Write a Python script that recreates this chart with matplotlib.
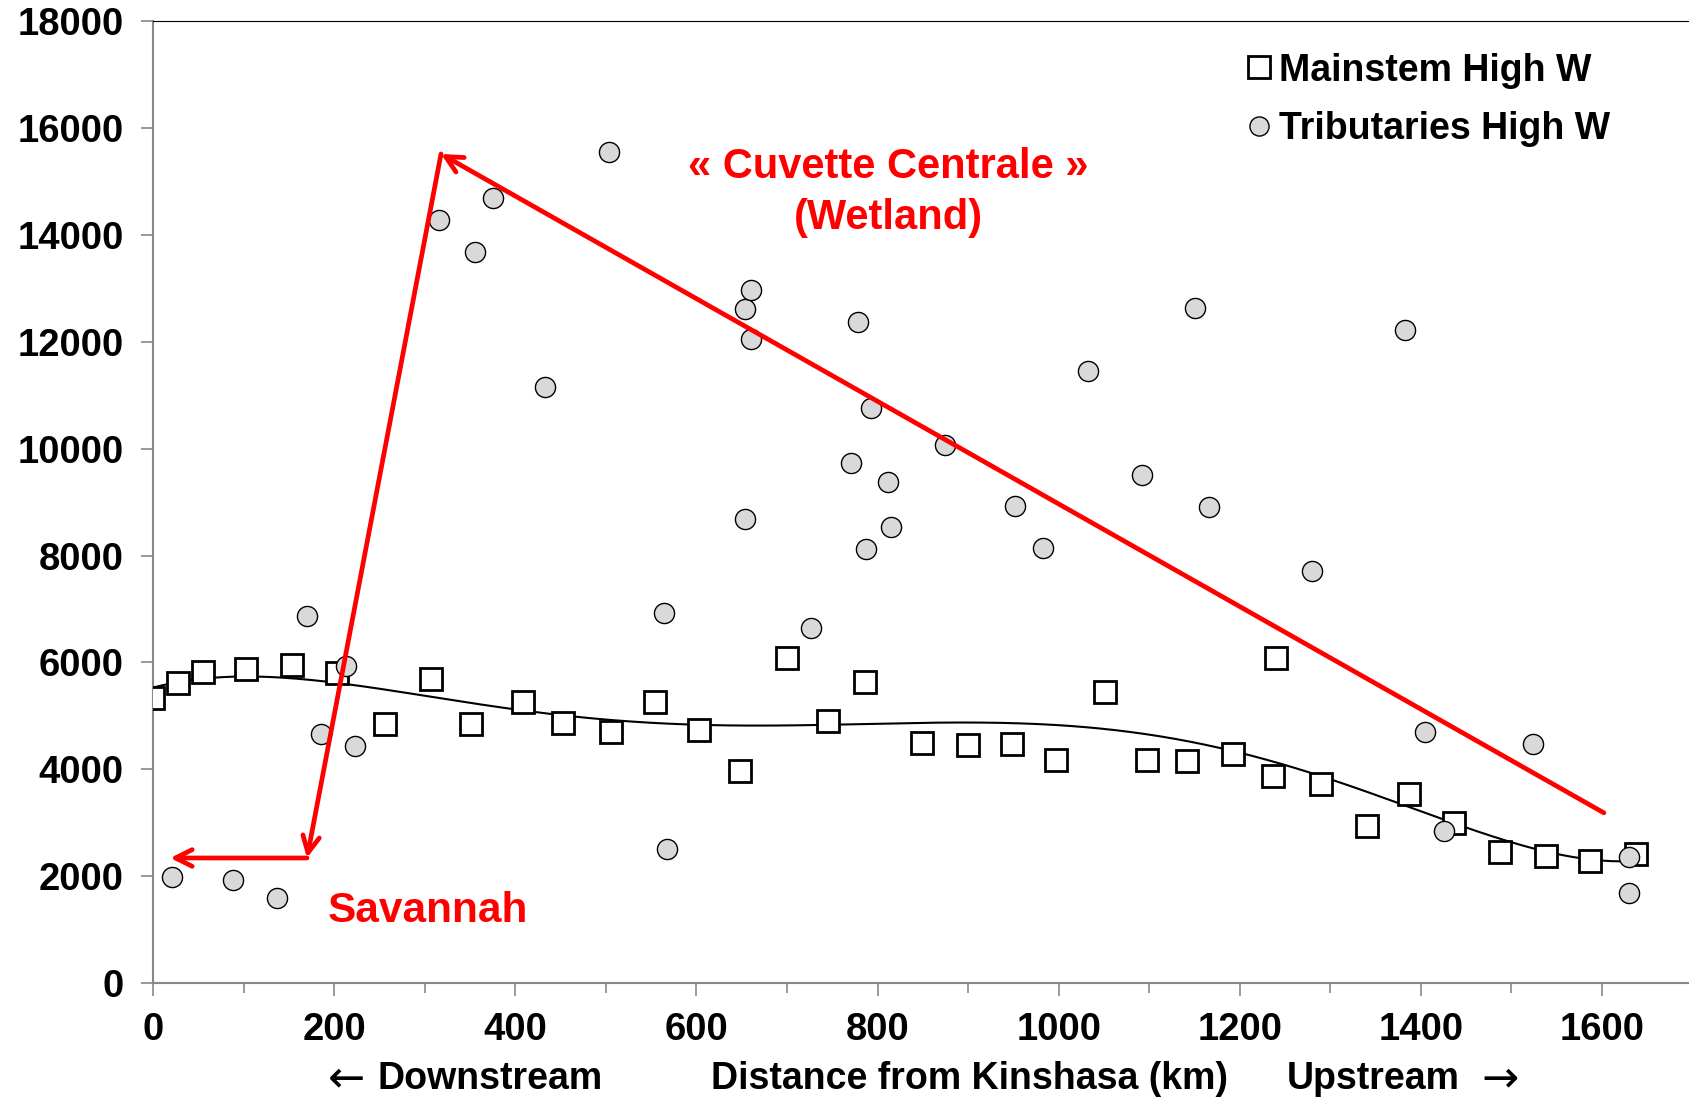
import numpy as np
import matplotlib.pyplot as plt

plt.rcParams['font.family'] = ['Liberation Sans', 'DejaVu Sans']
plt.rcParams['font.weight'] = 'bold'

# mainstem high water (km from Kinshasa, value)
main_x = [0, 28, 55, 103, 153, 203, 256, 307, 351, 408, 453, 506, 554, 603, 648,
          700, 745, 786, 849, 900, 949, 997, 1051, 1097, 1142, 1192, 1240, 1237,
          1290, 1340, 1387, 1436, 1487, 1538, 1587, 1638]
main_y = [5340, 5620, 5830, 5870, 5950, 5800, 4840, 5700, 4840, 5260, 4860, 4700,
          5260, 4740, 3970, 6090, 4900, 5640, 4500, 4460, 4480, 4170, 5440, 4170,
          4150, 4290, 6090, 3870, 3730, 2940, 3530, 3000, 2460, 2380, 2280, 2420]

# tributaries high water
trib_x = [21, 88, 137, 170, 185, 213, 223, 316, 355, 375, 433, 504, 564, 568, 654,
          660, 660, 654, 726, 771, 778, 787, 793, 811, 815, 874, 952, 983, 1032,
          1092, 1150, 1166, 1280, 1382, 1405, 1425, 1524, 1630, 1630]
trib_y = [1980, 1920, 1590, 6870, 4660, 5930, 4440, 14290, 13690, 14700, 11150,
          15560, 6930, 2500, 12620, 12980, 12050, 8690, 6650, 9740, 12380, 8120,
          10760, 9370, 8530, 10080, 8930, 8140, 11450, 9510, 12640, 8910, 7720,
          12220, 4700, 2840, 4480, 2360, 1690]

# red annotation path (km, value)
wet_path_x = [1602, 318, 170, 19]
wet_path_y = [3185, 15520, 2340, 2340]

fig = plt.figure(figsize=(16.89, 11.02), dpi=100)
ax = fig.add_axes([0.0906, 0.108, 0.9094, 0.8725])

# polynomial trendline through the mainstem points
coef = np.polyfit(main_x, main_y, 6)
xs = np.linspace(0, max(main_x), 300)
ax.plot(xs, np.polyval(coef, xs), color='black', lw=1.5, zorder=2)

ax.plot(main_x, main_y, ls='none', marker='s', ms=16, mfc='white', mec='black',
        mew=2, label='Mainstem High W', zorder=3)
ax.plot(trib_x, trib_y, ls='none', marker='o', ms=14.5, mfc='#d9d9d9', mec='black',
        mew=1, label='Tributaries High W', zorder=4)

arrow = dict(arrowstyle='->,head_length=1.2,head_width=0.6', color='red', lw=3.4,
             shrinkA=0, shrinkB=0)
for i in range(3):
    ax.annotate('', xy=(wet_path_x[i + 1], wet_path_y[i + 1]),
                xytext=(wet_path_x[i], wet_path_y[i]), arrowprops=arrow, zorder=5)

ax.text(812, 14800, '« Cuvette Centrale »\n(Wetland)', color='red', fontsize=30,
        fontweight='bold', ha='center', va='center', linespacing=1.35)
ax.text(303, 1350, 'Savannah', color='red', fontsize=30.5, fontweight='bold',
        ha='center', va='center')

ax.set_xlim(0, 1696)
ax.set_ylim(0, 18000)
ax.set_xticks(range(0, 1700, 200))
ax.set_xticks(range(100, 1700, 200), minor=True)
ax.set_yticks(range(0, 18001, 2000))
ax.tick_params(axis='both', which='major', labelsize=27.5, color='#888888',
               length=9, width=1.2, direction='out', pad=12)
ax.tick_params(axis='x', which='minor', color='#888888', length=7, width=1.2)
for lab in ax.get_xticklabels() + ax.get_yticklabels():
    lab.set_fontweight('bold')

ax.spines['left'].set_color('#888888')
ax.spines['bottom'].set_color('#888888')
ax.spines['left'].set_linewidth(1.5)
ax.spines['bottom'].set_linewidth(1.5)
ax.spines['top'].set_color('black')
ax.spines['right'].set_visible(False)

# x axis caption in pieces, arrows drawn a bit larger
cap_y = 0.021
fig.text(0.205, cap_y, '\u2190', fontsize=32, ha='center', va='center',
         family='DejaVu Sans', fontweight='normal')
fig.text(0.290, cap_y, 'Downstream', fontsize=27, fontweight='bold',
         ha='center', va='center')
fig.text(0.574, cap_y, 'Distance from Kinshasa (km)', fontsize=27, fontweight='bold',
         ha='center', va='center')
fig.text(0.813, cap_y, 'Upstream', fontsize=27, fontweight='bold',
         ha='center', va='center')
fig.text(0.888, cap_y, '\u2192', fontsize=32, ha='center', va='center',
         family='DejaVu Sans', fontweight='normal')

ax.legend(loc='upper right', bbox_to_anchor=(0.966, 0.995), frameon=False,
          prop={'weight': 'bold', 'size': 27}, handletextpad=0.05,
          handlelength=1.0, labelspacing=0.6, borderaxespad=0.3, markerscale=0.95)

fig.savefig('out.png', dpi=100)
